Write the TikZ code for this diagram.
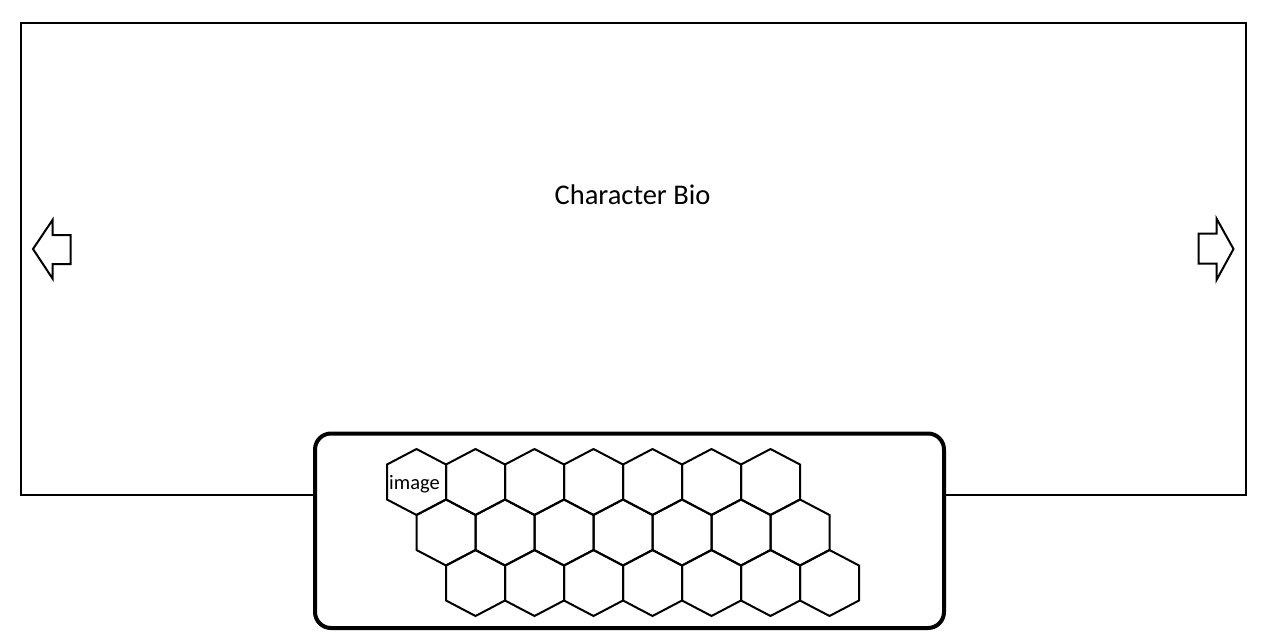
\documentclass[tikz,border=0pt]{standalone}
\usepackage{fontspec}
\setmainfont{Carlito}
\begin{document}
\begin{tikzpicture}[x=1pt,y=-1pt,line join=miter,
  frame/.style={draw=black,line width=2pt},
  panel/.style={draw=black,line width=4pt,fill=white,rounded corners=16pt},
  hexcell/.style={draw=black,line width=2pt},
  navarrow/.style={draw=black,line width=2pt,fill=white},
  label/.style={inner sep=0pt,anchor=base}]
\useasboundingbox (0,0) rectangle (1280,642);
\fill[white] (0,0) rectangle (1280,642);
% main frame
\draw[frame] (21,23) rectangle (1246,495);
\node[label,font=\fontsize{28.5}{32}\selectfont] (bio) at (632.5,204) {Character Bio};
% navigation arrows
\draw[navarrow] (33,249) -- (52.5,220) -- (52.5,235) -- (70.5,235) -- (70.5,264) -- (52.5,264) -- (52.5,278.5) -- cycle;
\draw[navarrow] (1233.5,249) -- (1216.5,218.5) -- (1216.5,233.5) -- (1198.5,233.5) -- (1198.5,263.5) -- (1216.5,263.5) -- (1216.5,280) -- cycle;
% selection panel
\draw[panel] (315,433.5) rectangle (944,628);
% hex grid
\foreach \r in {0,1,2}{
  \foreach \c in {0,...,6}{
    \pgfmathsetmacro\cx{416.5+29.5*\r+59*\c}
    \pgfmathsetmacro\cy{482+50.5*\r}
    \draw[hexcell] (\cx,\cy) ++(0,-33) -- ++(29.5,15.5) -- ++(0,35) -- ++(-29.5,15.5) -- ++(-29.5,-15.5) -- ++(0,-35) -- cycle;
  }
}
\node[label,font=\fontsize{20.5}{24}\selectfont] (img) at (414.5,489.5) {image};
\end{tikzpicture}
\end{document}
